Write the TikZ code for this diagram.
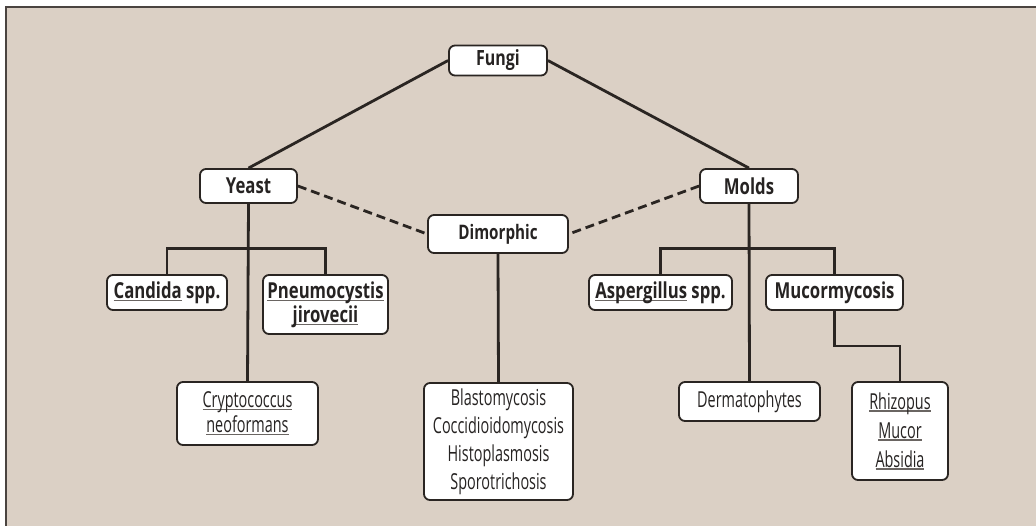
\documentclass[tikz,border=0pt]{standalone}
\usepackage{fontspec}
\setmainfont{Open Sans}[FakeStretch=0.655, BoldFeatures={FakeStretch=0.76}]
\definecolor{bg}{HTML}{DBD0C5}
\definecolor{frame}{HTML}{4A4440}
\definecolor{ink}{HTML}{2A2522}
\definecolor{txt}{HTML}{262322}
\definecolor{uline}{HTML}{6A6562}
\newsavebox\myulbox
\newcommand\myul[1]{\sbox\myulbox{#1}\rlap{\color{uline}\rule[-2.6pt]{\wd\myulbox}{1.3pt}}\usebox\myulbox}
\tikzset{
  box/.style={draw=ink, line width=1.8pt, rounded corners=6pt, fill=white, inner sep=0pt, align=center, text=txt},
  boldbox/.style={box, font=\bfseries\fontsize{22}{24}\selectfont},
  plainbox/.style={box, font=\fontsize{22}{28}\selectfont},
  link/.style={draw=ink, line width=2.8pt},
  dlink/.style={draw=ink, line width=2.8pt, dash pattern=on 9pt off 5pt}
}
\begin{document}
\begin{tikzpicture}[x=1pt,y=-1pt]
\useasboundingbox (0,0) rectangle (1036,525);
\clip (0,0) rectangle (1036,525);
\fill[white] (0,0) rectangle (1036,525);
\draw[fill=bg, draw=frame, line width=2pt] (6,7) rectangle (1050,540);

\node[boldbox, font=\bfseries\fontsize{21}{24}\selectfont, minimum width=98pt, minimum height=30pt] (fungi) at (498,60.5) {Fungi};
\node[boldbox, minimum width=97pt, minimum height=34pt] (yeast) at (248.5,186) {Yeast};
\node[boldbox, minimum width=98pt, minimum height=34pt] (molds) at (749,186) {Molds};
\node[boldbox, font=\bfseries\fontsize{20}{22}\selectfont, minimum width=140pt, minimum height=38pt] (dim) at (498,234) {Dimorphic};
\node[boldbox, minimum width=120pt, minimum height=35pt] (candida) at (167,292.5) {\myul{Candida} spp.};
\node[boldbox, minimum width=125pt, minimum height=59pt] (pneumo) at (325.5,304.5) {\myul{Pneumocystis}\\\myul{jirovecii}};
\node[boldbox, minimum width=143pt, minimum height=35pt] (asp) at (660.5,292.5) {\myul{Aspergillus} spp.};
\node[boldbox, minimum width=137pt, minimum height=35pt] (muc) at (834.5,292.5) {Mucormycosis};
\node[plainbox, font=\fontsize{22}{25}\selectfont, minimum width=141pt, minimum height=63pt] (crypto) at (247.5,413.5) {\myul{Cryptococcus}\\\myul{neoformans}};
\node[plainbox, minimum width=149pt, minimum height=117pt] (blasto) at (498.5,441.5) {Blastomycosis\\Coccidioidomycosis\\Histoplasmosis\\Sporotrichosis};
\node[plainbox, minimum width=141pt, minimum height=39pt] (derm) at (749.5,401.5) {Dermatophytes};
\node[plainbox, font=\fontsize{22}{29}\selectfont, minimum width=96pt, minimum height=98pt] (rhiz) at (900,431) {\myul{Rhizopus}\\\myul{Mucor}\\\myul{Absidia}};

\draw[link] (fungi.west) -- (yeast.north);
\draw[link] (fungi.east) -- (molds.north);
\draw[dlink] (yeast.east) -- (dim.west);
\draw[dlink] (molds.west) -- (dim.east);
\draw[link] (yeast.south) -- (crypto.north);
\draw[link] (candida.north) -- ++(0,-26) -| (pneumo.north);
\draw[link] (molds.south) -- (derm.north);
\draw[link] (asp.north) -- ++(0,-26) -| (muc.north);
\draw[link] (muc.south) -- ++(0,35) -| (rhiz.north);
\draw[link] (dim.south) -- (blasto.north);
\end{tikzpicture}
\end{document}
